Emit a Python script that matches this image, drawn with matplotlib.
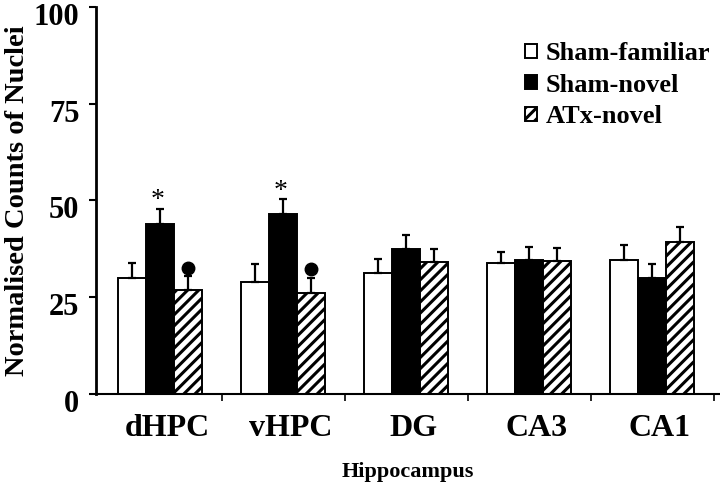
import matplotlib.pyplot as plt
import matplotlib.transforms as mtransforms
import numpy as np

plt.rcParams['font.family'] = ['Liberation Serif', 'DejaVu Serif']
plt.rcParams['font.weight'] = 'bold'
plt.rcParams['hatch.linewidth'] = 2.2

regions = ["dHPC", "vHPC", "DG", "CA3", "CA1"]
sham_fam = [30.0, 29.0, 31.3, 33.9, 34.6]
sham_fam_err = [3.9, 4.6, 3.6, 2.9, 4.0]
sham_nov = [43.9, 46.5, 37.5, 34.6, 30.0]
sham_nov_err = [4.0, 3.9, 3.6, 3.3, 3.6]
atx_nov = [26.9, 26.1, 34.1, 34.4, 39.3]
atx_nov_err = [3.6, 4.0, 3.5, 3.3, 3.8]

x = np.arange(len(regions))
w = 0.228

fig = plt.figure(figsize=(7.2, 4.86), dpi=100)
ax = fig.add_axes([0.1333, 0.189, 0.8667, 0.797])

ekw = dict(elinewidth=1.6, capthick=1.6)
ax.bar(x - w, sham_fam, w, color='white', edgecolor='black', linewidth=1.4,
       yerr=[np.zeros(5), sham_fam_err], capsize=3, error_kw=ekw, label='Sham-familiar')
ax.bar(x, sham_nov, w, color='black', edgecolor='black', linewidth=1.4,
       yerr=[np.zeros(5), sham_nov_err], capsize=3, error_kw=ekw, label='Sham-novel')
ax.bar(x + w, atx_nov, w, color='white', edgecolor='black', linewidth=1.4, hatch='///',
       yerr=[np.zeros(5), atx_nov_err], capsize=3, error_kw=ekw, label='ATx-novel')

# significance marks
for i in [0, 1]:
    ax.text(x[i] - 0.02, sham_nov[i] + sham_nov_err[i] - 1.2, '*', ha='center', va='bottom',
            fontsize=20, fontweight='normal')
    ax.plot(x[i] + w, atx_nov[i] + atx_nov_err[i] + 2.1, 'o', color='black', ms=9)

ax.set_xlim(-0.52, 4.55)
ax.set_ylim(0, 100)
ax.set_yticks([0, 25, 50, 75, 100])
ax.set_xticks(x + 0.06)
ax.set_xticklabels(regions, fontsize=23)
ax.set_xticks(x + 0.5, minor=True)
ax.tick_params(axis='x', which='major', length=0, pad=14)
ax.tick_params(axis='x', which='minor', length=5, width=1.2)
ax.tick_params(axis='y', labelsize=22, length=5, width=1.5, pad=7)
off = mtransforms.ScaledTranslation(0, -5 / 72, fig.dpi_scale_trans)
for lab in ax.get_yticklabels():
    lab.set_fontweight('bold')
    lab.set_transform(lab.get_transform() + off)
for lab in ax.get_xticklabels():
    lab.set_fontweight('bold')

ax.spines['top'].set_visible(False)
ax.spines['right'].set_visible(False)
ax.spines['left'].set_linewidth(2)
ax.spines['bottom'].set_linewidth(1.5)

ax.set_xlabel('Hippocampus', fontsize=16, fontweight='bold', labelpad=14)
ax.set_ylabel('Normalised Counts of Nuclei', fontsize=20.5, fontweight='bold')
ax.yaxis.set_label_coords(-0.106, 0.5)

leg = ax.legend(loc='upper right', bbox_to_anchor=(1.01, 0.95), frameon=False,
                prop={'size': 19, 'weight': 'bold'}, handlelength=0.45, handleheight=0.45,
                handletextpad=0.35, labelspacing=0.33, borderaxespad=0.2)

fig.savefig('out.png', dpi=100)
